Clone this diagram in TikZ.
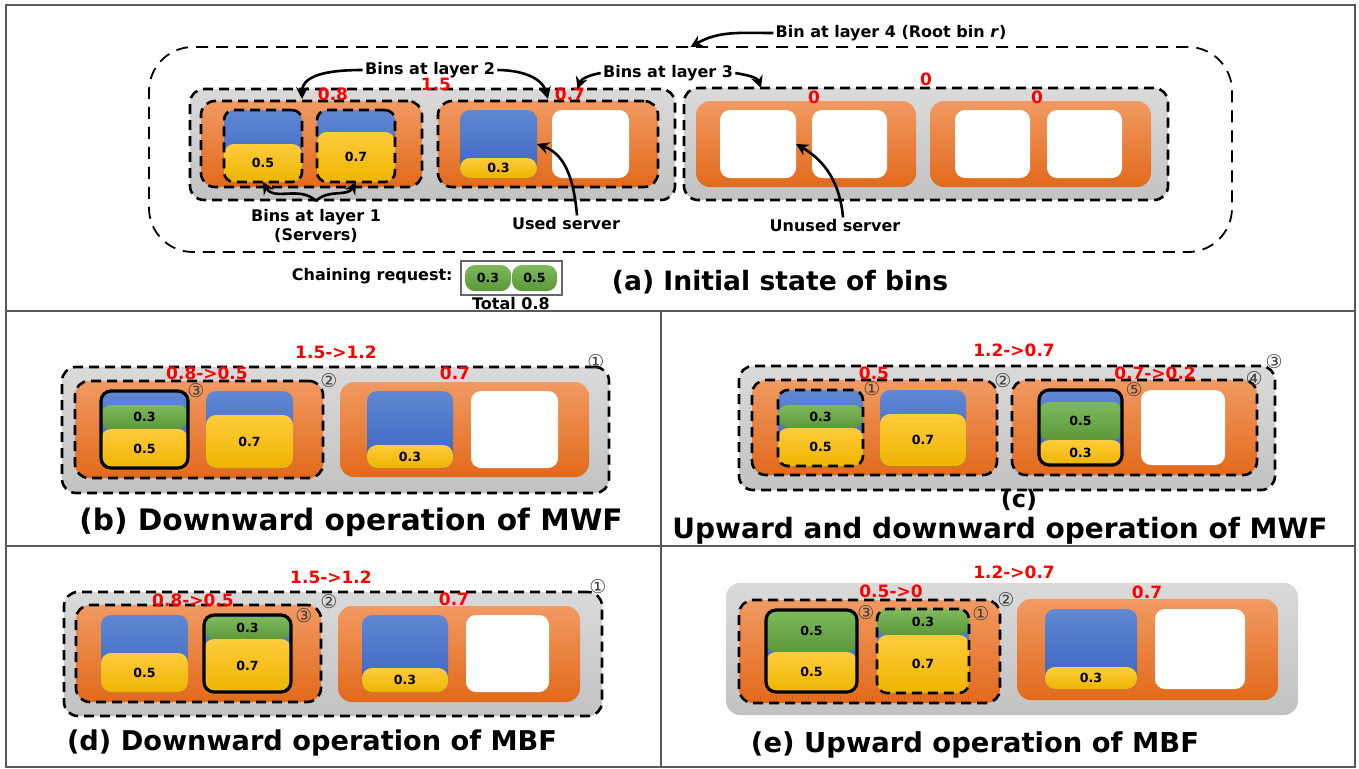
\documentclass[tikz,border=0pt]{standalone}
\usepackage{fontspec}
\setmainfont{DejaVu Sans}
\usetikzlibrary{fit,arrows.meta}
\definecolor{greyT}{HTML}{DADADA}
\definecolor{greyB}{HTML}{C2C2C2}
\definecolor{orT}{HTML}{F19A62}
\definecolor{orB}{HTML}{E2691B}
\definecolor{blueT}{HTML}{5F87D3}
\definecolor{blueB}{HTML}{3A64C0}
\definecolor{yelT}{HTML}{FFCC3C}
\definecolor{yelB}{HTML}{EDB500}
\definecolor{grnT}{HTML}{7EBA5C}
\definecolor{grnB}{HTML}{5A983A}
\definecolor{redL}{HTML}{FF0000}
\newcommand\mkcell[7]{\node[#2,fit={(#3,#4)(#5,#6)}] (#1) {};\node[val] at (#1.center) {#7};}
\begin{document}
\begin{tikzpicture}[x=0.5pt,y=-0.5pt,
 box/.style={inner sep=0pt, outer sep=0pt},
 greybin/.style={box, rounded corners=7pt, top color=greyT, bottom color=greyB},
 orbin/.style={box, rounded corners=7pt, top color=orT, bottom color=orB},
 bluesrv/.style={box, rounded corners=5pt, top color=blueT, bottom color=blueB},
 yelpart/.style={box, rounded corners=5pt, top color=yelT, bottom color=yelB},
 grnpart/.style={box, rounded corners=5pt, top color=grnT, bottom color=grnB},
 whitesrv/.style={box, rounded corners=5pt, fill=white},
 dashbox/.style={draw=black, line width=1.3pt, dash pattern=on 5pt off 3pt},
 dashout/.style={dashbox, rounded corners=7pt},
 dashsrv/.style={box, dashbox, rounded corners=5pt},
 solidsrv/.style={box, draw=black, line width=1.6pt, rounded corners=5pt},
 rootbin/.style={box, draw=black, line width=0.9pt, dash pattern=on 6pt off 4pt, rounded corners=22pt},
 lbl/.style={font=\bfseries\fontsize{8}{9.5}\selectfont, inner sep=1pt, align=center},
 rednum/.style={text=redL, font=\bfseries\fontsize{8.5}{10}\selectfont, inner sep=0pt},
 val/.style={font=\bfseries\fontsize{6.3}{7}\selectfont, inner sep=0pt},
 circ/.style={font=\fontsize{9.5}{10}\selectfont, text=black!75, inner sep=0pt},
 arr/.style={line width=1.3pt, -{Stealth[length=6pt,width=6pt]}},
 ttl/.style={font=\bfseries\fontsize{#1}{#1}\selectfont, inner sep=0pt},
 frameline/.style={draw=black!65, line width=1pt}
]
\useasboundingbox (0,0) rectangle (1359,768);
% frame
\draw[frameline] (6,5) rectangle (1355,767);
\draw[frameline] (6,311) -- (1355,311);
\draw[frameline] (6,546) -- (1355,546);
\draw[frameline] (661,311) -- (661,767);

% ================= (a)
\node[rootbin, fit={(149,47)(1232,252)}] (root) {};
\node[greybin,dashout,fit={(190,89)(675,200)}] (g1) {};
\node[greybin,dashout,fit={(684,88)(1168,200)}] (g2) {};
\node[orbin,dashout,fit={(201,101)(422,187)}] (oA) {};
\node[orbin,dashout,fit={(438,101)(658,187)}] (oB) {};
\node[orbin,fit={(696,101)(916,187)}] (oC) {};
\node[orbin,fit={(930,101)(1151,187)}] (oD) {};
\node[bluesrv,fit={(224,110)(302,182)}] (s1) {};
\mkcell{s1y}{yelpart}{224}{144}{302}{182}{0.5}
\node[dashsrv,fit={(224,110)(302,182)}] (s1o) {};
\node[bluesrv,fit={(317,110)(395,182)}] (s2) {};
\mkcell{s2y}{yelpart}{317}{132}{395}{182}{0.7}
\node[dashsrv,fit={(317,110)(395,182)}] (s2o) {};
\node[bluesrv,fit={(460,110)(537,178)}] (s3) {};
\mkcell{s3y}{yelpart}{460}{158}{537}{178}{0.3}
\node[whitesrv,fit={(552,110)(629,178)}] (w4) {};
\node[whitesrv,fit={(720,110)(796,178)}] (wC1) {};
\node[whitesrv,fit={(812,110)(887,178)}] (wC2) {};
\node[whitesrv,fit={(955,110)(1030,178)}] (wD1) {};
\node[whitesrv,fit={(1047,110)(1122,178)}] (wD2) {};

\node[rednum] (a15) at (436,84) {1.5};
\node[rednum] (a08) at (333,94) {0.8};
\node[rednum] (a07) at (570,94) {0.7};
\node[rednum] (a0a) at (814,97) {0};
\node[rednum] (a0b) at (926,79) {0};
\node[rednum] (a0c) at (1037,97) {0};

\node[lbl] (L4) at (891,33) {Bin at layer 4 (Root bin \textit{r})};
\node[lbl] (L2) at (430,70) {Bins at layer 2};
\node[lbl] (L3) at (668,73) {Bins at layer 3};
\node[lbl] (L1) at (316,226) {Bins at layer 1\\(Servers)};
\node[lbl] (US) at (566,224) {Used server};
\node[lbl] (UU) at (835,226) {Unused server};

\draw[arr] (L4.west) to[out=180,in=30] (root.north);
\draw[arr] (L2.west) to[out=180,in=90] ([xshift=-4.75pt,yshift=1pt]oA.north);
\draw[arr] (L2.east) to[out=0,in=105] ([yshift=1pt]oB.north);
\draw[arr] (L3.west) to[out=190,in=70] ([xshift=72.5pt]g1.north);
\draw[arr] (L3.east) to[out=-10,in=110] ([xshift=-82.5pt]g2.north);
\draw[arr] ([yshift=3pt]L1.north) to[out=135,in=-60] (s1.south);
\draw[arr] ([yshift=3pt]L1.north) to[out=45,in=-120] (s2.south);
\draw[arr] ([xshift=5.5pt]US.north) to[out=95,in=-20] (s3.east);
\draw[arr] ([xshift=4pt]UU.north) to[out=95,in=-30] (wC1.east);

\node[lbl, anchor=east] (CR) at (455,276) {Chaining request:};
\node[box, draw=black!60, line width=0.6pt, fill=white, fit={(461,261)(562,295)}] (req) {};
\mkcell{r1}{grnpart}{465}{265}{511}{291}{0.3}
\mkcell{r2}{grnpart}{512}{265}{557}{291}{0.5}
\node[lbl] (tot) at (511,304) {Total 0.8};
\node[ttl=13.3] (ta) at (780,282) {(a) Initial state of bins};

% ================= (b)
\node[greybin,dashout,fit={(62,367)(609,493)}] (bg) {};
\node[orbin,dashout,fit={(75,381)(323,478)}] (bo1) {};
\node[orbin,fit={(340,382)(589,477)}] (bo2) {};
\node[bluesrv,fit={(101,391)(188,468)}] (bs1) {};
\mkcell{bs1g}{grnpart}{101}{405}{188}{429}{0.3}
\mkcell{bs1y}{yelpart}{101}{429}{188}{468}{0.5}
\node[solidsrv,fit={(101,391)(188,468)}] (bs1o) {};
\node[bluesrv,fit={(206,391)(293,468)}] (bs2) {};
\mkcell{bs2y}{yelpart}{206}{415}{293}{468}{0.7}
\node[bluesrv,fit={(367,391)(453,468)}] (bs3) {};
\mkcell{bs3y}{yelpart}{367}{445}{453}{468}{0.3}
\node[whitesrv,fit={(471,391)(558,468)}] (bw) {};
\node[rednum] at (336,352) {1.5->1.2};
\node[rednum] at (207,373) {0.8->0.5};
\node[rednum] at (455,373) {0.7};
\node[circ] at (596,362) {①};
\node[circ] at (329,381) {②};
\node[circ] at (196,391) {③};
\node[ttl=14.8] (tb) at (351,522) {(b) Downward operation of MWF};

% ================= (c)
\node[greybin,dashout,fit={(739,366)(1275,490)}] (cg) {};
\node[orbin,dashout,fit={(752,380)(997,475)}] (co1) {};
\node[orbin,dashout,fit={(1012,380)(1257,475)}] (co2) {};
\node[bluesrv,fit={(778,390)(863,466)}] (cs1) {};
\mkcell{cs1g}{grnpart}{778}{405}{863}{428}{0.3}
\mkcell{cs1y}{yelpart}{778}{428}{863}{466}{0.5}
\node[dashsrv,fit={(778,390)(863,466)}] (cs1o) {};
\node[bluesrv,fit={(880,390)(966,466)}] (cs2) {};
\mkcell{cs2y}{yelpart}{880}{414}{966}{466}{0.7}
\node[bluesrv,fit={(1039,390)(1122,465)}] (cs3) {};
\mkcell{cs3g}{grnpart}{1039}{402}{1122}{440}{0.5}
\mkcell{cs3y}{yelpart}{1039}{440}{1122}{465}{0.3}
\node[solidsrv,fit={(1039,390)(1122,465)}] (cs3o) {};
\node[whitesrv,fit={(1141,390)(1225,465)}] (cw) {};
\node[rednum] at (1014,350) {1.2->0.7};
\node[rednum] at (874,373) {0.5};
\node[rednum] at (1155,373) {0.7->0.2};
\node[circ] at (872,389) {①};
\node[circ] at (1003,381) {②};
\node[circ] at (1274,362) {③};
\node[circ] at (1254,379) {④};
\node[circ] at (1134,390) {⑤};
\node[ttl=12] (tc1) at (1019,500) {(c)};
\node[ttl=14] (tc) at (1000,531) {Upward and downward operation of MWF};

% ================= (d)
\node[greybin,dashout,fit={(64,592)(602,716)}] (dg) {};
\node[orbin,dashout,fit={(76,605)(321,702)}] (do1) {};
\node[orbin,fit={(338,606)(580,702)}] (do2) {};
\node[bluesrv,fit={(101,615)(188,692)}] (ds1) {};
\mkcell{ds1y}{yelpart}{101}{653}{188}{692}{0.5}
\node[bluesrv,fit={(204,615)(291,692)}] (ds2) {};
\mkcell{ds2g}{grnpart}{204}{617}{291}{639}{0.3}
\mkcell{ds2y}{yelpart}{204}{639}{291}{692}{0.7}
\node[solidsrv,fit={(204,615)(291,692)}] (ds2o) {};
\node[bluesrv,fit={(362,615)(448,692)}] (ds3) {};
\mkcell{ds3y}{yelpart}{362}{668}{448}{692}{0.3}
\node[whitesrv,fit={(466,615)(549,692)}] (dw) {};
\node[rednum] at (331,577) {1.5->1.2};
\node[rednum] at (193,600) {0.8->0.5};
\node[rednum] at (454,599) {0.7};
\node[circ] at (598,587) {①};
\node[circ] at (329,602) {②};
\node[circ] at (304,616) {③};
\node[ttl=13.6] (td) at (312,743) {(d) Downward operation of MBF};

% ================= (e)
\node[greybin,fit={(726,583)(1298,715)}] (eg) {};
\node[orbin,dashout,fit={(739,600)(1000,703)}] (eo1) {};
\node[orbin,fit={(1017,599)(1278,700)}] (eo2) {};
\node[bluesrv,fit={(766,610)(857,692)}] (es1) {};
\mkcell{es1g}{grnpart}{766}{610}{857}{652}{0.5}
\mkcell{es1y}{yelpart}{766}{652}{857}{692}{0.5}
\node[solidsrv,fit={(766,610)(857,692)}] (es1o) {};
\node[bluesrv,fit={(877,609)(969,693)}] (es2) {};
\mkcell{es2g}{grnpart}{877}{609}{969}{635}{0.3}
\mkcell{es2y}{yelpart}{877}{635}{969}{693}{0.7}
\node[dashsrv,fit={(877,609)(969,693)}] (es2o) {};
\node[bluesrv,fit={(1045,609)(1137,689)}] (es3) {};
\mkcell{es3y}{yelpart}{1045}{667}{1137}{689}{0.3}
\node[whitesrv,fit={(1155,609)(1245,689)}] (ew) {};
\node[rednum] at (1014,572) {1.2->0.7};
\node[rednum] at (891,591) {0.5->0};
\node[rednum] at (1147,592) {0.7};
\node[circ] at (981,614) {①};
\node[circ] at (1006,600) {②};
\node[circ] at (866,613) {③};
\node[ttl=13.7] (te) at (975,745) {(e) Upward operation of MBF};
\end{tikzpicture}
\end{document}
